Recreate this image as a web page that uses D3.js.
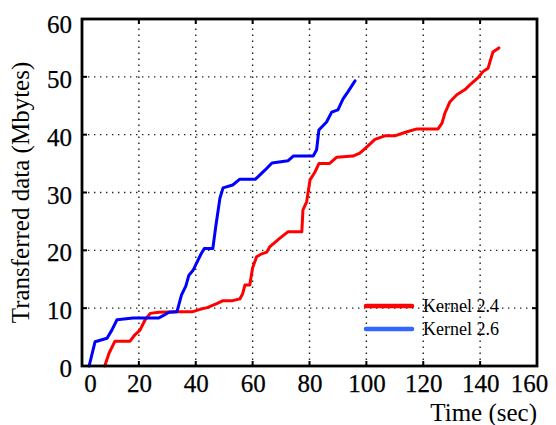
<!DOCTYPE html>
<html>
<head>
<meta charset="utf-8">
<script src="https://cdn.jsdelivr.net/npm/d3@7"></script>
<style>
  html, body { margin: 0; padding: 0; background: #fff; }
  svg { display: block; }
  text { font-family: "Liberation Serif", "DejaVu Serif", serif; fill: #000; }
  .heavy { stroke: #000; stroke-width: 0.25px; }
</style>
</head>
<body>
<svg id="chart" width="556" height="425"></svg>
<script>
// Cumulative data transferred over time for two kernel versions
const xTicks = [0, 20, 40, 60, 80, 100, 120, 140, 160];
const yTicks = [0, 10, 20, 30, 40, 50, 60];

const k24Time = [8, 9.5, 11.6, 16.9, 18.6, 20.4, 22.2, 24, 27, 33, 39, 41.5, 44, 47.4, 49.6, 53, 55.5, 56.5, 57.3, 59,
  60, 61.4, 63.2, 65, 66, 69.6, 72.4, 77.3, 77.7, 79, 80.2, 82, 83.3, 87, 89.6, 95.3, 97.7, 100.2, 103, 106.5,
  110, 114.3, 117.8, 125.2, 126.6, 127.6, 129.4, 131.8, 134.7, 136.4, 139.2, 141, 142.8, 144.5, 146.6];
const k24Data = [0, 2.2, 4.3, 4.3, 5.4, 6.2, 8, 9.1, 9.3, 9.4, 9.4, 9.8, 10.1, 10.8, 11.3, 11.3, 11.6, 12.5, 14, 14,
  17, 18.9, 19.4, 19.7, 20.6, 22.1, 23.2, 23.2, 27, 28.4, 32.2, 33.6, 35, 35, 36.1, 36.3, 36.8, 37.9, 39.2, 39.8,
  39.8, 40.5, 41, 41, 42, 43.7, 45.7, 46.9, 47.8, 48.6, 49.8, 50.9, 51.5, 54.3, 55];

const k26Time = [2.5, 3.5, 4.6, 8.8, 10.5, 12.3, 18, 27, 28.5, 30.6, 33.4, 35, 36.5, 37.6, 39, 40.5, 42, 43, 46, 47, 48.5,
  49.6, 53, 55.5, 61, 62.5, 64.4, 66.8, 72.5, 74.3, 81.3, 82.5, 83.3, 86, 87.8, 90, 91.8, 93.5, 96];
const k26Data = [0, 2, 4.2, 4.8, 6.2, 8, 8.3, 8.3, 8.7, 9.3, 9.4, 12.3, 13.8, 15.7, 16.5, 18, 19.5, 20.3, 20.3, 24, 29,
  30.8, 31.3, 32.3, 32.3, 33, 33.9, 35.1, 35.5, 36.3, 36.3, 37.4, 40.8, 42.2, 43.9, 44.3, 46.2, 47.4, 49.3];

const seriesNames = ["Kernel 2.4", "Kernel 2.6"];
const lineColors = ["#ff0000", "#0000ff"];
const legendColors = ["#ff0000", "#3366ff"];

const svg = d3.select("#chart");
const plotLeft = 82, plotRight = 537, plotTop = 19, plotBottom = 366;

const x = d3.scaleLinear().domain([0, 160]).range([plotLeft, plotRight]);
const y = d3.scaleLinear().domain([0, 60]).range([plotBottom, plotTop]);

// dotted grid
const grid = svg.append("g").attr("stroke", "#222").attr("stroke-width", 1.4)
  .attr("stroke-dasharray", "1.4,4.6").attr("fill", "none");
xTicks.filter(t => t > 0 && t < 160).forEach(t => {
  grid.append("line").attr("x1", x(t)).attr("x2", x(t)).attr("y1", plotBottom).attr("y2", plotTop);
});
yTicks.filter(t => t > 0 && t < 60).forEach(t => {
  grid.append("line").attr("x1", plotLeft).attr("x2", plotRight).attr("y1", y(t)).attr("y2", y(t));
});

// series lines
const series = [
  { name: seriesNames[0], t: k24Time, v: k24Data, color: lineColors[0] },
  { name: seriesNames[1], t: k26Time, v: k26Data, color: lineColors[1] }
];
const line = d3.line().x(d => x(d[0])).y(d => y(d[1]));
series.forEach(s => {
  svg.append("path")
    .datum(s.t.map((t, i) => [t, s.v[i]]))
    .attr("d", line)
    .attr("fill", "none")
    .attr("stroke", s.color)
    .attr("stroke-width", 3)
    .attr("stroke-linejoin", "round")
    .attr("stroke-linecap", "round");
});

// inward ticks on all four sides
const tickLen = 5;
const ticks = svg.append("g").attr("stroke", "#000").attr("stroke-width", 2);
xTicks.forEach(t => {
  ticks.append("line").attr("x1", x(t)).attr("x2", x(t)).attr("y1", plotBottom).attr("y2", plotBottom - tickLen);
  ticks.append("line").attr("x1", x(t)).attr("x2", x(t)).attr("y1", plotTop).attr("y2", plotTop + tickLen);
});
yTicks.forEach(t => {
  ticks.append("line").attr("x1", plotLeft).attr("x2", plotLeft + tickLen).attr("y1", y(t)).attr("y2", y(t));
  ticks.append("line").attr("x1", plotRight).attr("x2", plotRight - tickLen).attr("y1", y(t)).attr("y2", y(t));
});

// frame
svg.append("rect")
  .attr("x", plotLeft).attr("y", plotTop)
  .attr("width", plotRight - plotLeft).attr("height", plotBottom - plotTop)
  .attr("fill", "none").attr("stroke", "#000").attr("stroke-width", 2.8);

// tick labels
const xAxis = d3.axisBottom(x).tickValues(xTicks).tickSize(0).tickPadding(0);
const gx = svg.append("g").attr("transform", `translate(0,${plotBottom})`).call(xAxis);
gx.select(".domain").remove();
gx.selectAll("text")
  .attr("class", "heavy")
  .attr("y", 26).attr("dy", 0)
  .style("font-family", "'Liberation Serif', serif")
  .style("font-size", "25px")
  .attr("dx", d => d === 0 ? 8 : d === 160 ? -8 : 0);

const yAxis = d3.axisLeft(y).tickValues(yTicks).tickSize(0).tickPadding(0);
const gy = svg.append("g").attr("transform", `translate(${plotLeft},0)`).call(yAxis);
gy.select(".domain").remove();
gy.selectAll("text")
  .attr("class", "heavy")
  .attr("x", -10).attr("dy", "0.42em")
  .style("font-family", "'Liberation Serif', serif")
  .style("font-size", "25px")
  .attr("transform", d => d === 60 ? "translate(0,3)" : null);

// axis titles
svg.append("text")
  .attr("x", 537).attr("y", 421)
  .attr("text-anchor", "end")
  .style("font-size", "25px")
  .text("Time (sec)");

svg.append("text")
  .attr("transform", `translate(29,${(plotTop + plotBottom) / 2}) rotate(-90)`)
  .attr("text-anchor", "middle")
  .style("font-size", "25px")
  .text("Transferred data (Mbytes)");

// legend
const legend = svg.append("g");
seriesNames.forEach((name, i) => {
  const ly = 306 + i * 23;
  legend.append("line")
    .attr("x1", 366).attr("x2", 412).attr("y1", ly).attr("y2", ly)
    .attr("stroke", legendColors[i]).attr("stroke-width", 4.5)
    .attr("stroke-linecap", "round");
  legend.append("text")
    .attr("x", 423).attr("y", ly + 6)
    .style("font-size", "18px")
    .text(name);
});
</script>
</body>
</html>
